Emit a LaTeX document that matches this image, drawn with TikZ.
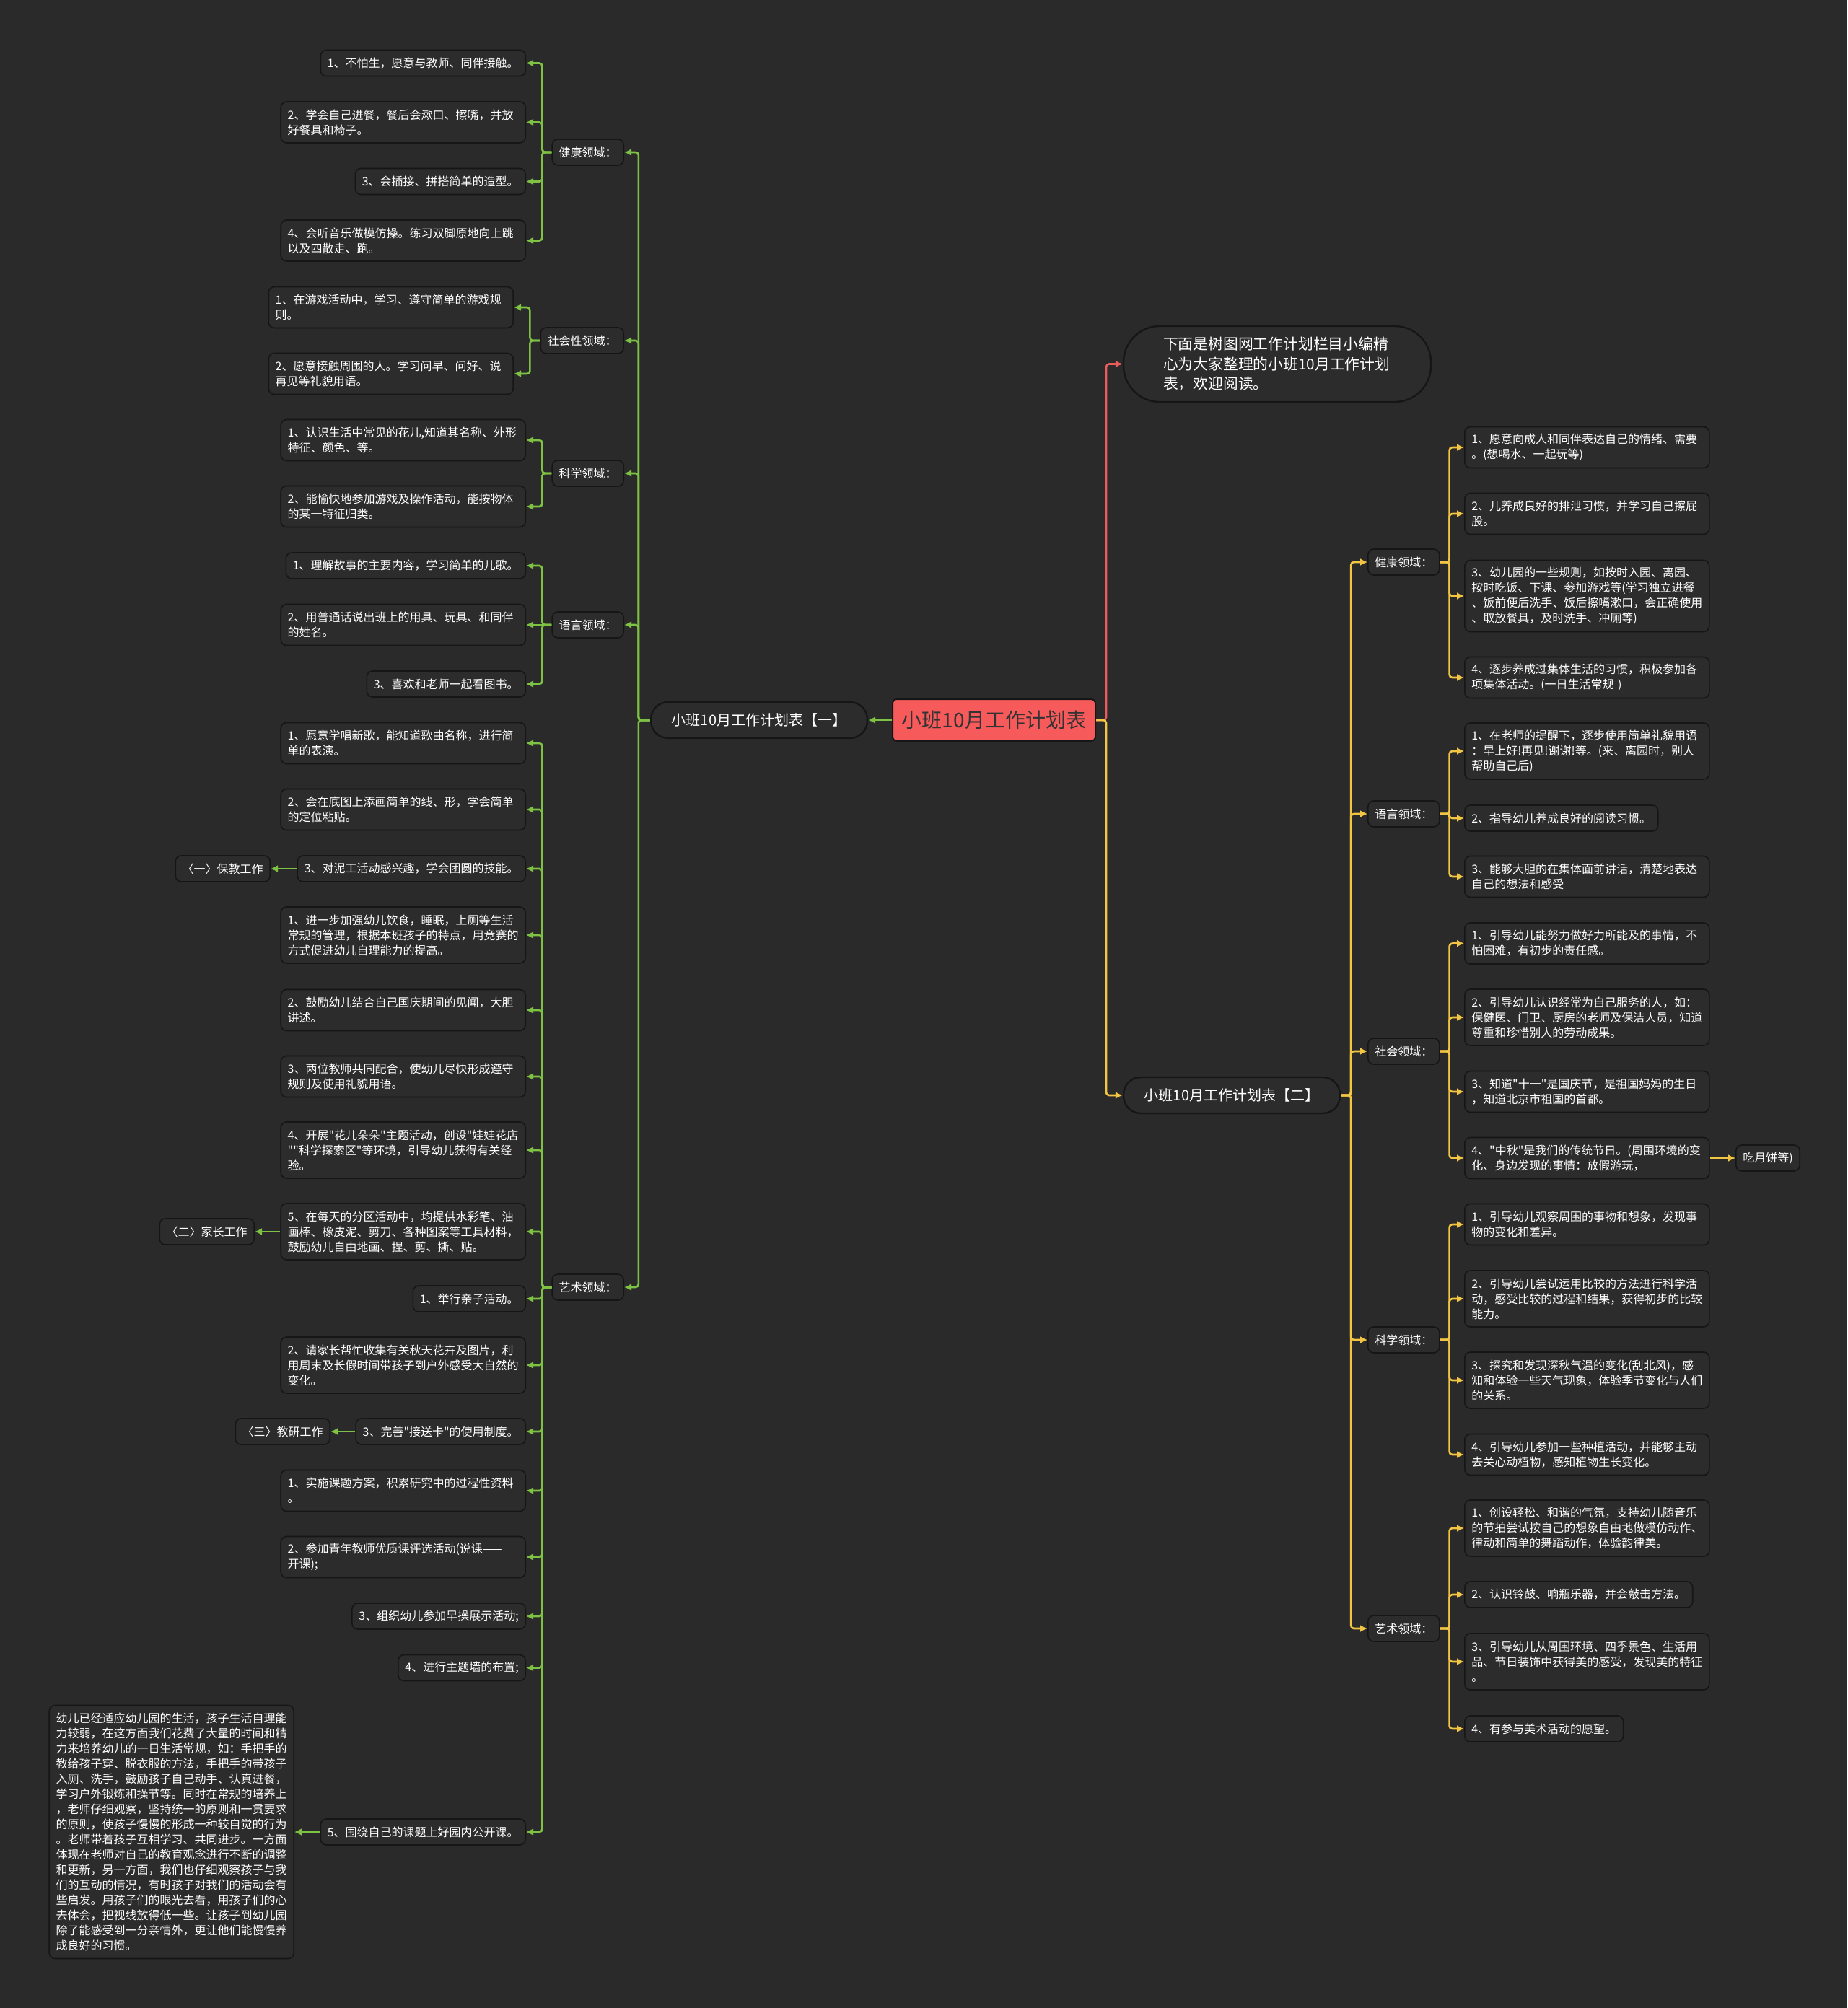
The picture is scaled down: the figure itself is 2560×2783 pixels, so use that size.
\documentclass[tikz,border=0pt]{standalone}
\usepackage{fontspec}
\usetikzlibrary{arrows.meta}
\newfontfamily\cjk{Noto Sans CJK SC}
\definecolor{bg}{HTML}{2A2A2A}
\definecolor{nodefill}{HTML}{2C2C2C}
\definecolor{nodeline}{HTML}{161616}
\definecolor{gline}{HTML}{7DC242}
\definecolor{yline}{HTML}{F2C542}
\definecolor{rline}{HTML}{E85C5C}
\definecolor{rootred}{HTML}{F65A5B}
\definecolor{roottext}{HTML}{333333}
\newcommand{\leaffont}{\cjk\fontsize{8}{10.5}\selectfont}
\newcommand{\pillfont}{\cjk\fontsize{10}{13}\selectfont}
\newcommand{\introfont}{\cjk\fontsize{10.4}{13.7}\selectfont}
\newcommand{\rootfont}{\cjk\fontsize{14}{17}\selectfont}
\tikzset{
  base/.style={draw=nodeline, line width=0.8pt, fill=nodefill, rounded corners=4pt,
    text=white, font=\leaffont, inner xsep=4.75pt, inner ysep=1pt, align=left},
  one/.style={base, minimum height=18pt},
  two/.style={base, minimum height=28.5pt, text width=160pt},
  three/.style={base, minimum height=39pt, text width=160pt},
  four/.style={base, minimum height=49.5pt, text width=160pt},
  longbox/.style={base, minimum height=175.5pt, text width=160pt},
  catbox/.style={one},
  pill/.style={draw=nodeline, line width=1.2pt, fill=nodefill, rounded corners=12pt,
    text=white, font=\pillfont, minimum width=150pt, minimum height=25pt},
  introbox/.style={draw=nodeline, line width=1.2pt, fill=nodefill, rounded corners=25pt,
    text=white, font=\introfont, minimum width=213pt, minimum height=52.5pt,
    text width=158pt, inner xsep=4pt, align=left},
  rootbox/.style={draw=nodeline, line width=1pt, fill=rootred, rounded corners=3pt,
    text=roottext, font=\rootfont, minimum width=140.5pt, minimum height=29pt},
  garr/.style={draw=gline, line width=1.3pt, rounded corners=2pt, -{Latex[length=5pt,width=5pt]}},
  yarr/.style={draw=yline, line width=1.3pt, rounded corners=2pt, -{Latex[length=5pt,width=5pt]}},
  rarr/.style={draw=rline, line width=1.3pt, rounded corners=2pt, -{Latex[length=5pt,width=5pt]}},
}
\begin{document}
\begin{tikzpicture}[x=0.5pt,y=-0.5pt]
\fill[bg] (0,0) rectangle (2560,2783);
\useasboundingbox (0,0) rectangle (2560,2783);

% ---------- centre ----------
\node[rootbox] (root) at (1377.5,998) {小班10月工作计划表};
\node[pill] (br1) at (1052,998) {小班10月工作计划表【一】};
\node[pill] (br2) at (1707,1518) {小班10月工作计划表【二】};
\node[introbox] (intro) at (1770,504.5) {下面是树图网工作计划栏目小编精\\心为大家整理的小班10月工作计划\\表，欢迎阅读。};

% ---------- left categories ----------
\node[catbox,anchor=east] (lc1) at (865,211) {健康领域：};
\node[catbox,anchor=east] (lc2) at (865,472) {社会性领域：};
\node[catbox,anchor=east] (lc3) at (865,656) {科学领域：};
\node[catbox,anchor=east] (lc4) at (865,866) {语言领域：};
\node[catbox,anchor=east] (lc5) at (865,1784) {艺术领域：};

% left health
\node[one,anchor=east] (lh1) at (729,87.5) {1、不怕生，愿意与教师、同伴接触。};
\node[two,anchor=east] (lh2) at (729,169.5) {2、学会自己进餐，餐后会漱口、擦嘴，并放\\好餐具和椅子。};
\node[one,anchor=east] (lh3) at (729,251.5) {3、会插接、拼搭简单的造型。};
\node[two,anchor=east] (lh4) at (729,333.5) {4、会听音乐做模仿操。练习双脚原地向上跳\\以及四散走、跑。};
% left social
\node[two,anchor=east] (ls1) at (712,426) {1、在游戏活动中，学习、遵守简单的游戏规\\则。};
\node[two,anchor=east] (ls2) at (712,518) {2、愿意接触周围的人。学习问早、问好、说\\再见等礼貌用语。};
% left science
\node[two,anchor=east] (lk1) at (729,610) {1、认识生活中常见的花儿,知道其名称、外形\\特征、颜色、等。};
\node[two,anchor=east] (lk2) at (729,702) {2、能愉快地参加游戏及操作活动，能按物体\\的某一特征归类。};
% left language
\node[one,anchor=east] (ll1) at (729,784) {1、理解故事的主要内容，学习简单的儿歌。};
\node[two,anchor=east] (ll2) at (729,866) {2、用普通话说出班上的用具、玩具、和同伴\\的姓名。};
\node[one,anchor=east] (ll3) at (729,948) {3、喜欢和老师一起看图书。};
% left art
\node[two,anchor=east] (la1) at (729,1030) {1、愿意学唱新歌，能知道歌曲名称，进行简\\单的表演。};
\node[two,anchor=east] (la2) at (729,1122) {2、会在底图上添画简单的线、形，学会简单\\的定位粘贴。};
\node[one,anchor=east] (la3) at (729,1204) {3、对泥工活动感兴趣，学会团圆的技能。};
\node[three,anchor=east] (la4) at (729,1296) {1、进一步加强幼儿饮食，睡眠，上厕等生活\\常规的管理，根据本班孩子的特点，用竞赛的\\方式促进幼儿自理能力的提高。};
\node[two,anchor=east] (la5) at (729,1400) {2、鼓励幼儿结合自己国庆期间的见闻，大胆\\讲述。};
\node[two,anchor=east] (la6) at (729,1492) {3、两位教师共同配合，使幼儿尽快形成遵守\\规则及使用礼貌用语。};
\node[three,anchor=east] (la7) at (729,1594) {4、开展"花儿朵朵"主题活动，创设"娃娃花店\\""科学探索区"等环境，引导幼儿获得有关经\\验。};
\node[three,anchor=east] (la8) at (729,1707) {5、在每天的分区活动中，均提供水彩笔、油\\画棒、橡皮泥、剪刀、各种图案等工具材料，\\鼓励幼儿自由地画、捏、剪、撕、贴。};
\node[one,anchor=east] (la9) at (729,1800) {1、举行亲子活动。};
\node[three,anchor=east] (la10) at (729,1892) {2、请家长帮忙收集有关秋天花卉及图片，利\\用周末及长假时间带孩子到户外感受大自然的\\变化。};
\node[one,anchor=east] (la11) at (729,1984) {3、完善"接送卡"的使用制度。};
\node[two,anchor=east] (la12) at (729,2066) {1、实施课题方案，积累研究中的过程性资料\\。};
\node[two,anchor=east] (la13) at (729,2158) {2、参加青年教师优质课评选活动(说课——\\开课);};
\node[one,anchor=east] (la14) at (729,2240) {3、组织幼儿参加早操展示活动;};
\node[one,anchor=east] (la15) at (729,2311.5) {4、进行主题墙的布置;};
\node[one,anchor=east] (la16) at (729,2539) {5、围绕自己的课题上好园内公开课。};

% left terminal nodes
\node[one,anchor=east] (t1) at (375,1204) {〈一〉保教工作};
\node[one,anchor=east] (t2) at (353,1707) {〈二〉家长工作};
\node[one,anchor=east] (t3) at (458,1984) {〈三〉教研工作};
\node[longbox,anchor=east] (t4) at (408,2539) {幼儿已经适应幼儿园的生活，孩子生活自理能\\力较弱，在这方面我们花费了大量的时间和精\\力来培养幼儿的一日生活常规，如：手把手的\\教给孩子穿、脱衣服的方法，手把手的带孩子\\入厕、洗手，鼓励孩子自己动手、认真进餐，\\学习户外锻炼和操节等。同时在常规的培养上\\，老师仔细观察，坚持统一的原则和一贯要求\\的原则，使孩子慢慢的形成一种较自觉的行为\\。老师带着孩子互相学习、共同进步。一方面\\体现在老师对自己的教育观念进行不断的调整\\和更新，另一方面，我们也仔细观察孩子与我\\们的互动的情况，有时孩子对我们的活动会有\\些启发。用孩子们的眼光去看，用孩子们的心\\去体会，把视线放得低一些。让孩子到幼儿园\\除了能感受到一分亲情外，更让他们能慢慢养\\成良好的习惯。};

% ---------- right categories ----------
\node[catbox,anchor=west] (rc1) at (1895,779) {健康领域：};
\node[catbox,anchor=west] (rc2) at (1895,1128) {语言领域：};
\node[catbox,anchor=west] (rc3) at (1895,1457) {社会领域：};
\node[catbox,anchor=west] (rc4) at (1895,1857) {科学领域：};
\node[catbox,anchor=west] (rc5) at (1895,2257) {艺术领域：};

% right health
\node[two,anchor=west] (rh1) at (2029,620) {1、愿意向成人和同伴表达自己的情绪、需要\\。(想喝水、一起玩等)};
\node[two,anchor=west] (rh2) at (2029,712) {2、儿养成良好的排泄习惯，并学习自己擦屁\\股。};
\node[four,anchor=west] (rh3) at (2029,826) {3、幼儿园的一些规则，如按时入园、离园、\\按时吃饭、下课、参加游戏等(学习独立进餐\\、饭前便后洗手、饭后擦嘴漱口，会正确使用\\、取放餐具，及时洗手、冲厕等)};
\node[two,anchor=west] (rh4) at (2029,939) {4、逐步养成过集体生活的习惯，积极参加各\\项集体活动。(一日生活常规 )};
% right language
\node[three,anchor=west] (rl1) at (2029,1041) {1、在老师的提醒下，逐步使用简单礼貌用语\\：早上好!再见!谢谢!等。(来、离园时，别人\\帮助自己后)};
\node[one,anchor=west] (rl2) at (2029,1134) {2、指导幼儿养成良好的阅读习惯。};
\node[two,anchor=west] (rl3) at (2029,1215) {3、能够大胆的在集体面前讲话，清楚地表达\\自己的想法和感受};
% right social
\node[two,anchor=west] (rs1) at (2029,1307.5) {1、引导幼儿能努力做好力所能及的事情，不\\怕困难，有初步的责任感。};
\node[three,anchor=west] (rs2) at (2029,1410) {2、引导幼儿认识经常为自己服务的人，如：\\保健医、门卫、厨房的老师及保洁人员，知道\\尊重和珍惜别人的劳动成果。};
\node[two,anchor=west] (rs3) at (2029,1513) {3、知道"十一"是国庆节，是祖国妈妈的生日\\，知道北京市祖国的首都。};
\node[two,anchor=west] (rs4) at (2029,1605) {4、"中秋"是我们的传统节日。(周围环境的变\\化、身边发现的事情：放假游玩，};
\node[one,anchor=west] (t5) at (2405,1605) {吃月饼等)};
% right science
\node[two,anchor=west] (rk1) at (2029,1697) {1、引导幼儿观察周围的事物和想象，发现事\\物的变化和差异。};
\node[three,anchor=west] (rk2) at (2029,1800) {2、引导幼儿尝试运用比较的方法进行科学活\\动，感受比较的过程和结果，获得初步的比较\\能力。};
\node[three,anchor=west] (rk3) at (2029,1913) {3、探究和发现深秋气温的变化(刮北风)，感\\知和体验一些天气现象，体验季节变化与人们\\的关系。};
\node[two,anchor=west] (rk4) at (2029,2016) {4、引导幼儿参加一些种植活动，并能够主动\\去关心动植物，感知植物生长变化。};
% right art
\node[three,anchor=west] (ra1) at (2029,2118) {1、创设轻松、和谐的气氛，支持幼儿随音乐\\的节拍尝试按自己的想象自由地做模仿动作、\\律动和简单的舞蹈动作，体验韵律美。};
\node[one,anchor=west] (ra2) at (2029,2210) {2、认识铃鼓、响瓶乐器，并会敲击方法。};
\node[three,anchor=west] (ra3) at (2029,2303) {3、引导幼儿从周围环境、四季景色、生活用\\品、节日装饰中获得美的感受，发现美的特征\\。};
\node[one,anchor=west] (ra4) at (2029,2396) {4、有参与美术活动的愿望。};

% ---------- connectors ----------
\draw[garr] (root.west) -- (br1.east);
\draw[rarr] (root.east) -- ++(14,0) |- (intro.west);
\draw[yarr] (root.east) -- ++(14,0) |- (br2.west);

\foreach \q in {lc1,lc2,lc3,lc4,lc5}
  \draw[garr] (br1.west) -- ++(-16,0) |- (\q.east);
\foreach \q in {rc1,rc2,rc3,rc4,rc5}
  \draw[yarr] (br2.east) -- ++(14,0) |- (\q.west);

\foreach \q in {lh1,lh2,lh3,lh4}
  \draw[garr] (lc1.west) -- ++(-13,0) |- (\q.east);
\foreach \q in {ls1,ls2}
  \draw[garr] (lc2.west) -- ++(-14,0) |- (\q.east);
\foreach \q in {lk1,lk2}
  \draw[garr] (lc3.west) -- ++(-13,0) |- (\q.east);
\foreach \q in {ll1,ll3}
  \draw[garr] (lc4.west) -- ++(-13,0) |- (\q.east);
\draw[garr] (lc4.west) -- (ll2.east);
\foreach \q in {la1,la2,la3,la4,la5,la6,la7,la8,la9,la10,la11,la12,la13,la14,la15,la16}
  \draw[garr] (lc5.west) -- ++(-13,0) |- (\q.east);

\draw[garr] (la3.west) -- (t1.east);
\draw[garr] (la8.west) -- (t2.east);
\draw[garr] (la11.west) -- (t3.east);
\draw[garr] (la16.west) -- (t4.east);

\foreach \q in {rh1,rh2,rh3,rh4}
  \draw[yarr] (rc1.east) -- ++(13,0) |- (\q.west);
\foreach \q in {rl1,rl2,rl3}
  \draw[yarr] (rc2.east) -- ++(13,0) |- (\q.west);
\foreach \q in {rs1,rs2,rs3,rs4}
  \draw[yarr] (rc3.east) -- ++(13,0) |- (\q.west);
\foreach \q in {rk1,rk2,rk3,rk4}
  \draw[yarr] (rc4.east) -- ++(13,0) |- (\q.west);
\foreach \q in {ra1,ra2,ra3,ra4}
  \draw[yarr] (rc5.east) -- ++(13,0) |- (\q.west);
\draw[yarr] (rs4.east) -- (t5.west);
\end{tikzpicture}
\end{document}
